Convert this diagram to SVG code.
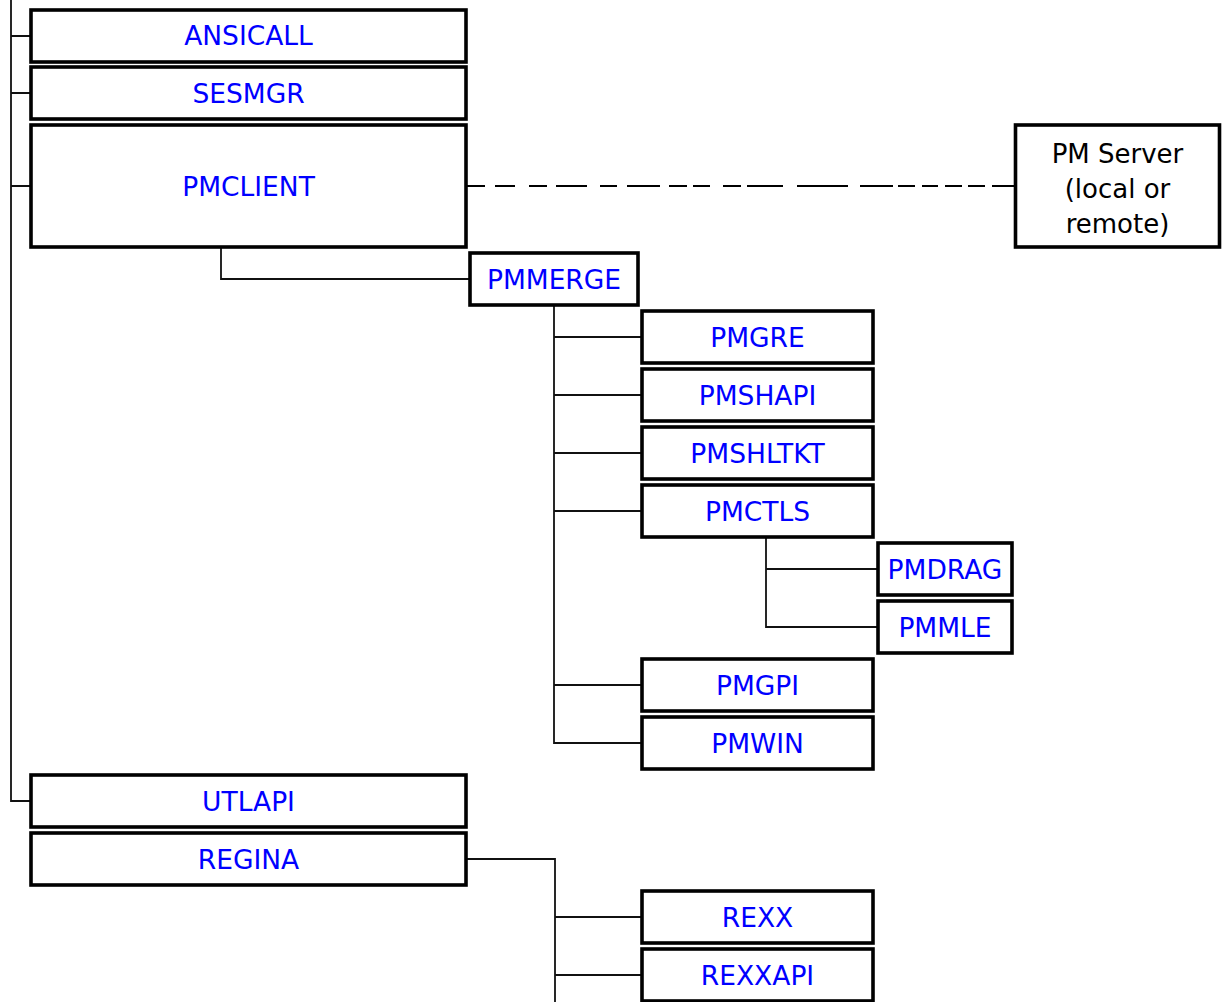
<svg xmlns="http://www.w3.org/2000/svg" width="1228" height="1002" viewBox="0 0 1228 1002">
<style>
.box{fill:#fff;stroke:#000;stroke-width:3.6}
.lbl{font-family:"DejaVu Sans","Noto Sans",sans-serif;font-size:26.5px;fill:#0000ff;text-anchor:middle}
.srv{font-family:"DejaVu Sans","Noto Sans",sans-serif;font-size:26px;fill:#000;text-anchor:middle}
.con{fill:none;stroke:#111;stroke-width:1.8}
.dash{fill:none;stroke:#000;stroke-width:2}
</style>
<rect width="1228" height="1002" fill="#fff"/>
<g id="connectors">
<path class="con" d="M11 0V801H31M11 36H31M11 93H31M11 186H31"/>
<path class="con" d="M221 247V279H470"/>
<path class="con" d="M554 305V743H642M554 337H642M554 395H642M554 453H642M554 511H642M554 685H642"/>
<path class="con" d="M766 537V627H878M766 569H878"/>
<path class="con" d="M466 859H555V1002M555 917H642M555 975H642"/>
<path class="dash" d="M467 186H485M495 186H515M529 186H547M556 186H587M600 186H617M627 186H660M669 186H687M693 186H710M723 186H741M747 186H783M797 186H848M860 186H893M898 186H915M922 186H938M945 186H962M968 186H985M992 186H1014"/>
</g>
<g id="ANSICALL"><rect class="box" x="31" y="10" width="435" height="52"/><text class="lbl" x="248.5" y="45">ANSICALL</text></g>
<g id="SESMGR"><rect class="box" x="31" y="67" width="435" height="52"/><text class="lbl" x="248.5" y="103">SESMGR</text></g>
<g id="PMCLIENT"><rect class="box" x="31" y="125" width="435" height="122"/><text class="lbl" x="248.5" y="196">PMCLIENT</text></g>
<g id="PMServer"><rect class="box" x="1015.5" y="125" width="204" height="122"/><text class="srv" x="1117.5" y="163">PM Server</text><text class="srv" x="1117.5" y="198">(local or</text><text class="srv" x="1117.5" y="233">remote)</text></g>
<g id="PMMERGE"><rect class="box" x="470" y="253" width="168" height="52"/><text class="lbl" x="554" y="289">PMMERGE</text></g>
<g id="PMGRE"><rect class="box" x="642" y="311" width="231" height="52"/><text class="lbl" x="757.5" y="347">PMGRE</text></g>
<g id="PMSHAPI"><rect class="box" x="642" y="369" width="231" height="52"/><text class="lbl" x="757.5" y="405">PMSHAPI</text></g>
<g id="PMSHLTKT"><rect class="box" x="642" y="427" width="231" height="52"/><text class="lbl" x="757.5" y="463">PMSHLTKT</text></g>
<g id="PMCTLS"><rect class="box" x="642" y="485" width="231" height="52"/><text class="lbl" x="757.5" y="521">PMCTLS</text></g>
<g id="PMDRAG"><rect class="box" x="878" y="543" width="134" height="52"/><text class="lbl" x="945" y="579">PMDRAG</text></g>
<g id="PMMLE"><rect class="box" x="878" y="601" width="134" height="52"/><text class="lbl" x="945" y="637">PMMLE</text></g>
<g id="PMGPI"><rect class="box" x="642" y="659" width="231" height="52"/><text class="lbl" x="757.5" y="695">PMGPI</text></g>
<g id="PMWIN"><rect class="box" x="642" y="717" width="231" height="52"/><text class="lbl" x="757.5" y="753">PMWIN</text></g>
<g id="UTLAPI"><rect class="box" x="31" y="775" width="435" height="52"/><text class="lbl" x="248.5" y="811">UTLAPI</text></g>
<g id="REGINA"><rect class="box" x="31" y="833" width="435" height="52"/><text class="lbl" x="248.5" y="869">REGINA</text></g>
<g id="REXX"><rect class="box" x="642" y="891" width="231" height="52"/><text class="lbl" x="757.5" y="927">REXX</text></g>
<g id="REXXAPI"><rect class="box" x="642" y="949" width="231" height="52"/><text class="lbl" x="757.5" y="985">REXXAPI</text></g>
</svg>
